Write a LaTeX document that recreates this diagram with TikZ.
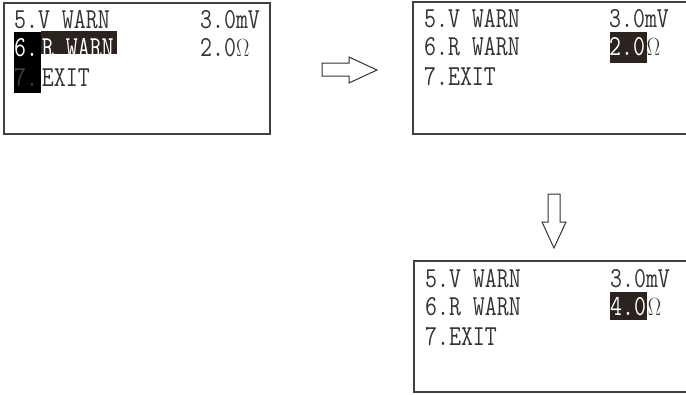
\documentclass[tikz,border=0pt]{standalone}
\usepackage{graphicx}
\definecolor{lcdbrown}{RGB}{43,35,32}
\newcommand\lcdtext[1]{\scalebox{0.8}[1]{#1}}
\newcommand\ohm{\ensuremath{\Omega}}
\tikzset{
  screen/.style={draw=black!75, line width=1.6pt},
  lcd/.style={anchor=base west, inner sep=0pt, text=black!80,
    font=\ttfamily\fontsize{29pt}{29pt}\selectfont},
  inv/.style={lcd, text=white},
  bigarrow/.style={draw=black!80, line width=1pt, fill=white, line join=miter}
}
\begin{document}
\begin{tikzpicture}[x=1pt, y=-1pt]
    \clip (0,0) rectangle (686,394);
    % first screen
    \begin{scope}[shift={(4,3)}]
    \draw [screen] (0,0) rectangle (266,131);
    \fill [black] (10,29) rectangle (37,90);
    \fill [lcdbrown] (37,28) rectangle (113,51);
    \node [lcd] (s1v) at (10,25) {\lcdtext{5.V WARN}};
    \node [inv] (s1r) at (10,53) {\lcdtext{6.}};
    \node [inv, anchor=base west] (s1rt) at ([xshift=3.5pt]s1r.base east) {\lcdtext{R WARN}};
    \node [lcd, text=black!75] (s1e) at (10,83) {\lcdtext{7.}};
    \node [lcd, anchor=base west] (s1et) at ([xshift=3.5pt]s1e.base east) {\lcdtext{EXIT}};
    \node [lcd] (s1mv) at (196,25) {\lcdtext{3.0mV}};
    \node [lcd] (s1ohm) at (196,53) {\lcdtext{2.0\ohm}};
    \end{scope}
    % second screen
    \begin{scope}[shift={(413,2)}]
    \draw [screen] (0,0) rectangle (290,132);
    \fill [lcdbrown] (197,30) rectangle (234,61);
    \node [lcd] (s2v) at (11,25) {\lcdtext{5.V WARN}};
    \node [lcd] (s2r) at (11,53) {\lcdtext{6.R WARN}};
    \node [lcd] (s2e) at (11,83) {\lcdtext{7.EXIT}};
    \node [lcd] (s2mv) at (196,25) {\lcdtext{3.0mV}};
    \node [inv] (s2val) at (196,53) {\lcdtext{2.0}};
    \node [lcd, anchor=base west] (s2ohm) at ([xshift=1.5pt]s2val.base east) {\lcdtext{\ohm}};
    \end{scope}
    % third screen
    \begin{scope}[shift={(414,261)}]
    \draw [screen] (0,0) rectangle (290,131);
    \fill [lcdbrown] (196,31) rectangle (233,59);
    \node [lcd] (s3v) at (11,26) {\lcdtext{5.V WARN}};
    \node [lcd] (s3r) at (11,54) {\lcdtext{6.R WARN}};
    \node [lcd] (s3e) at (11,84) {\lcdtext{7.EXIT}};
    \node [lcd] (s3mv) at (196,26) {\lcdtext{3.0mV}};
    \node [inv] (s3val) at (196,54) {\lcdtext{4.0}};
    \node [lcd, anchor=base west] (s3ohm) at ([xshift=1.5pt]s3val.base east) {\lcdtext{\ohm}};
    \end{scope}
    % arrows
    \draw [bigarrow] (322,63) -- (349,63) -- (349,57) -- (377,70)
        -- (349,83) -- (349,76) -- (322,76) -- cycle;
    \draw [bigarrow] (548,194) -- (560,194) -- (560,222) -- (566,222)
        -- (554,248) -- (542,222) -- (548,222) -- cycle;
\end{tikzpicture}
\end{document}
